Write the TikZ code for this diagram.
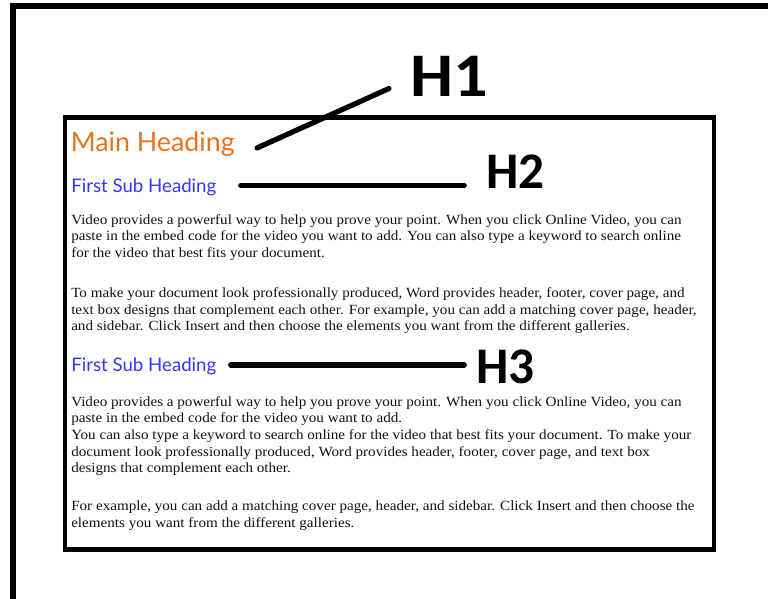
\documentclass[tikz,border=0pt]{standalone}
\usepackage{fontspec}
\newfontfamily\headfont{Lato}
\newfontfamily\labfont{Carlito}
\newfontfamily\labwide[FakeStretch=1.1]{Carlito}
\newfontfamily\bodyfont[FakeStretch=1.08]{Liberation Serif}
\definecolor{headorange}{HTML}{E8731F}
\definecolor{headblue}{HTML}{3535FF}
\definecolor{bodyink}{HTML}{111111}
\begin{document}
\begin{tikzpicture}[x=0.75pt,y=-0.75pt,
  frame/.style={line width=4.5pt,black},
  pagebox/.style={line width=3.4pt,black},
  conn/.style={line width=4.4pt,black,line cap=round},
  txt/.style={inner sep=0pt,anchor=base west},
  mainhead/.style={txt,text=headorange,font=\headfont\fontsize{20.1}{24}\selectfont},
  subhead/.style={txt,text=headblue,font=\headfont\fontsize{14.0}{17}\selectfont},
  body/.style={txt,text=bodyink,font=\bodyfont\fontsize{10.5}{12.5}\selectfont},
  lab/.style={txt,font=\labfont\bfseries\fontsize{38.5}{40}\selectfont}]
\useasboundingbox (0,0) rectangle (768,599);
\clip (0,0) rectangle (768,599);
% outer frame (top and left edges)
\draw[frame] (13,620) -- (13,6) -- (790,6);
% page box
\draw[pagebox] (65,117.5) rectangle (714,549.5);
% headings
\node[mainhead] (mh) at (70.5,152) {Main Heading};
\node[subhead] (sh1) at (71,193) {First Sub Heading};
\node[subhead] (sh2) at (71,371.5) {First Sub Heading};
% paragraph 1
\node[body] (p1a) at (71,224.3) {Video provides a powerful way to help you prove your point. When you click Online Video, you can};
\node[body] (p1b) at (71,241) {paste in the embed code for the video you want to add. You can also type a keyword to search online};
\node[body] (p1c) at (71,257.7) {for the video that best fits your document.};
% paragraph 2
\node[body] (p2a) at (71,297.3) {To make your document look professionally produced, Word provides header, footer, cover page, and};
\node[body] (p2b) at (71,314) {text box designs that complement each other. For example, you can add a matching cover page, header,};
\node[body] (p2c) at (71,330.7) {and sidebar. Click Insert and then choose the elements you want from the different galleries.};
% paragraph 3
\node[body] (p3a) at (71,406) {Video provides a powerful way to help you prove your point. When you click Online Video, you can};
\node[body] (p3b) at (71,422.7) {paste in the embed code for the video you want to add.};
\node[body] (p3c) at (71,439.4) {You can also type a keyword to search online for the video that best fits your document. To make your};
\node[body] (p3d) at (71,456.1) {document look professionally produced, Word provides header, footer, cover page, and text box};
\node[body] (p3e) at (71,472.8) {designs that complement each other.};
% paragraph 4
\node[body] (p4a) at (71,510) {For example, you can add a matching cover page, header, and sidebar. Click Insert and then choose the};
\node[body] (p4b) at (71,527) {elements you want from the different galleries.};
% labels
\node[lab,font=\labwide\bfseries\fontsize{46.5}{48}\selectfont] (H1) at (410,97) {H1};
\node[lab] (H2) at (486,188.5) {H2};
\node[lab] (H3) at (476,383) {H3};
% connectors
\coordinate (c1a) at (257,148);
\coordinate (c1b) at (389,88.5);
\coordinate (c2a) at (241,185.5);
\coordinate (c2b) at (464,185.5);
\coordinate (c3a) at (231,365);
\coordinate (c3b) at (464,365);
\draw[conn,line width=3.9pt] (c1a) -- (c1b);
\draw[conn] (c2a) -- (c2b);
\draw[conn] (c3a) -- (c3b);
\end{tikzpicture}
\end{document}
